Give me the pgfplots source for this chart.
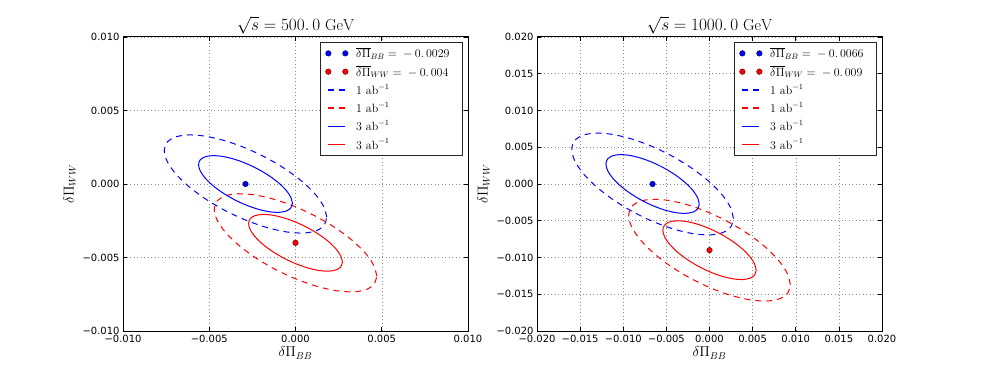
\documentclass[border=0pt]{standalone}
\usepackage{fontspec}
\usepackage{pgfplots}
\pgfplotsset{compat=1.18}
\newfontfamily\dejavu{DejaVu Sans}

\pgfplotsset{
  panel/.style={
    scale only axis, width=345bp, height=294bp, anchor=south west,
    scaled ticks=false,
    grid=major,
    grid style={black!45, line width=0.5bp, dash pattern=on 1bp off 2.5bp},
    tick align=inside, major tick length=4bp,
    tick style={black, line width=0.6bp},
    axis line style={black, line width=1bp},
    ticklabel style={font=\dejavu\fontsize{10}{12}\selectfont},
    xticklabel style={yshift=-1bp},
    label style={font=\fontsize{14}{16}\selectfont},
    xlabel style={yshift=3bp},
    title style={font=\fontsize{16}{19}\selectfont, yshift=-7bp},
    xlabel={$\delta\Pi_{BB}$}, ylabel={$\delta\Pi_{WW}$},
    legend cell align=left,
    legend style={font=\fontsize{12}{14}\selectfont, at={(1,1)}, anchor=north east,
      xshift=-5bp, yshift=-5bp, draw=black!85, line width=1bp,
      inner xsep=5bp, inner ysep=3bp, row sep=2.5bp,
      nodes={inner xsep=8bp}},
  },
  dots/.style={only marks, mark=*, mark size=2.8bp,
    mark options={draw=black!70!#1, line width=0.4bp, fill=#1}, color=#1,
    legend image code/.code={\draw[##1] plot[only marks] coordinates {(0bp,0bp) (17bp,0bp)};}},
  ell/.style={smooth, line width=1bp, draw=#1, color=#1, mark=none,
    legend image code/.code={\draw[##1, draw=#1, line width=1.4bp] (0bp,0bp) -- (17bp,0bp);}},
  dsh/.style={dash pattern=on 6bp off 5bp},
}

\begin{document}
\begin{tikzpicture}
\path[use as bounding box] (0,0) rectangle (981bp,368bp);

% ---- sqrt(s) = 500 GeV
\begin{axis}[panel, at={(123bp,37bp)},
  xmin=-0.01, xmax=0.01, ymin=-0.01, ymax=0.01,
  xtick={-0.01,-0.005,0,0.005,0.01},
  xticklabels={−0.010,−0.005,0.000,0.005,0.010},
  ytick={-0.01,-0.005,0,0.005,0.01},
  yticklabels={−0.010,−0.005,0.000,0.005,0.010},
  title={$\sqrt{s}=500.\,0\ \mathrm{GeV}$}]
\addplot[dots=blue] coordinates {(-0.0029,0)};
\addlegendentry{$\overline{\delta\Pi}_{BB}={}-0.\,0029$}
\addplot[dots=red] coordinates {(0,-0.004)};
\addlegendentry{$\overline{\delta\Pi}_{WW}={}-0.\,004$}
% 1 ab^-1
\addplot[ell=blue, dsh] coordinates {
 (1.81e-3,-2.271e-3) (1.649e-3,-1.560e-3) (1.179e-3,-0.742e-3) (0.430e-3,0.126e-3)
 (-0.545e-3,0.985e-3) (-1.681e-3,1.778e-3) (-2.9e-3,2.449e-3) (-4.119e-3,2.953e-3)
 (-5.255e-3,3.257e-3) (-6.23e-3,3.337e-3) (-6.979e-3,3.191e-3) (-7.449e-3,2.828e-3)
 (-7.61e-3,2.271e-3) (-7.449e-3,1.560e-3) (-6.979e-3,0.742e-3) (-6.23e-3,-0.126e-3)
 (-5.255e-3,-0.985e-3) (-4.119e-3,-1.778e-3) (-2.9e-3,-2.449e-3) (-1.681e-3,-2.953e-3)
 (-0.545e-3,-3.257e-3) (0.430e-3,-3.337e-3) (1.179e-3,-3.191e-3) (1.649e-3,-2.828e-3)
 (1.81e-3,-2.271e-3)};
\addlegendentry{$1\ \mathrm{ab}^{-1}$}
\addplot[ell=red, dsh] coordinates {
 (4.71e-3,-6.271e-3) (4.549e-3,-5.560e-3) (4.079e-3,-4.742e-3) (3.330e-3,-3.874e-3)
 (2.355e-3,-3.015e-3) (1.219e-3,-2.222e-3) (0,-1.551e-3) (-1.219e-3,-1.047e-3)
 (-2.355e-3,-0.743e-3) (-3.330e-3,-0.663e-3) (-4.079e-3,-0.809e-3) (-4.549e-3,-1.172e-3)
 (-4.71e-3,-1.729e-3) (-4.549e-3,-2.440e-3) (-4.079e-3,-3.258e-3) (-3.330e-3,-4.126e-3)
 (-2.355e-3,-4.985e-3) (-1.219e-3,-5.778e-3) (0,-6.449e-3) (1.219e-3,-6.953e-3)
 (2.355e-3,-7.257e-3) (3.330e-3,-7.337e-3) (4.079e-3,-7.191e-3) (4.549e-3,-6.828e-3)
 (4.71e-3,-6.271e-3)};
\addlegendentry{$1\ \mathrm{ab}^{-1}$}
% 3 ab^-1
\addplot[ell=blue] coordinates {
 (-0.18e-3,-1.312e-3) (-0.273e-3,-0.901e-3) (-0.544e-3,-0.429e-3) (-0.977e-3,0.073e-3)
 (-1.54e-3,0.569e-3) (-2.196e-3,1.027e-3) (-2.9e-3,1.415e-3) (-3.604e-3,1.707e-3)
 (-4.26e-3,1.882e-3) (-4.823e-3,1.928e-3) (-5.256e-3,1.844e-3) (-5.527e-3,1.634e-3)
 (-5.62e-3,1.312e-3) (-5.527e-3,0.901e-3) (-5.256e-3,0.429e-3) (-4.823e-3,-0.073e-3)
 (-4.26e-3,-0.569e-3) (-3.604e-3,-1.027e-3) (-2.9e-3,-1.415e-3) (-2.196e-3,-1.707e-3)
 (-1.54e-3,-1.882e-3) (-0.977e-3,-1.928e-3) (-0.544e-3,-1.844e-3) (-0.273e-3,-1.634e-3)
 (-0.18e-3,-1.312e-3)};
\addlegendentry{$3\ \mathrm{ab}^{-1}$}
\addplot[ell=red] coordinates {
 (2.72e-3,-5.312e-3) (2.627e-3,-4.901e-3) (2.356e-3,-4.429e-3) (1.923e-3,-3.927e-3)
 (1.36e-3,-3.431e-3) (0.704e-3,-2.973e-3) (0,-2.585e-3) (-0.704e-3,-2.293e-3)
 (-1.36e-3,-2.118e-3) (-1.923e-3,-2.072e-3) (-2.356e-3,-2.156e-3) (-2.627e-3,-2.366e-3)
 (-2.72e-3,-2.688e-3) (-2.627e-3,-3.099e-3) (-2.356e-3,-3.571e-3) (-1.923e-3,-4.073e-3)
 (-1.36e-3,-4.569e-3) (-0.704e-3,-5.027e-3) (0,-5.415e-3) (0.704e-3,-5.707e-3)
 (1.36e-3,-5.882e-3) (1.923e-3,-5.928e-3) (2.356e-3,-5.844e-3) (2.627e-3,-5.634e-3)
 (2.72e-3,-5.312e-3)};
\addlegendentry{$3\ \mathrm{ab}^{-1}$}
\end{axis}

% ---- sqrt(s) = 1000 GeV
\begin{axis}[panel, at={(537bp,37bp)},
  xmin=-0.02, xmax=0.02, ymin=-0.02, ymax=0.02,
  xtick={-0.02,-0.015,-0.01,-0.005,0,0.005,0.01,0.015,0.02},
  xticklabels={−0.020,−0.015,−0.010,−0.005,0.000,0.005,0.010,0.015,0.020},
  ytick={-0.02,-0.015,-0.01,-0.005,0,0.005,0.01,0.015,0.02},
  yticklabels={−0.020,−0.015,−0.010,−0.005,0.000,0.005,0.010,0.015,0.020},
  title={$\sqrt{s}=1000.\,0\ \mathrm{GeV}$}]
\addplot[dots=blue] coordinates {(-0.0066,0)};
\addlegendentry{$\overline{\delta\Pi}_{BB}={}-0.\,0066$}
\addplot[dots=red] coordinates {(0,-0.009)};
\addlegendentry{$\overline{\delta\Pi}_{WW}={}-0.\,009$}
% 1 ab^-1
\addplot[ell=blue, dsh] coordinates {
 (2.77e-3,-4.712e-3) (2.451e-3,-3.236e-3) (1.514e-3,-1.541e-3) (0.026e-3,0.261e-3)
 (-1.915e-3,2.044e-3) (-4.175e-3,3.688e-3) (-6.6e-3,5.081e-3) (-9.025e-3,6.128e-3)
 (-11.285e-3,6.757e-3) (-13.226e-3,6.924e-3) (-14.714e-3,6.622e-3) (-15.651e-3,5.867e-3)
 (-15.97e-3,4.712e-3) (-15.651e-3,3.236e-3) (-14.714e-3,1.541e-3) (-13.226e-3,-0.261e-3)
 (-11.285e-3,-2.044e-3) (-9.025e-3,-3.688e-3) (-6.6e-3,-5.081e-3) (-4.175e-3,-6.128e-3)
 (-1.915e-3,-6.757e-3) (0.026e-3,-6.924e-3) (1.514e-3,-6.622e-3) (2.451e-3,-5.867e-3)
 (2.77e-3,-4.712e-3)};
\addlegendentry{$1\ \mathrm{ab}^{-1}$}
\addplot[ell=red, dsh] coordinates {
 (9.37e-3,-13.712e-3) (9.051e-3,-12.236e-3) (8.114e-3,-10.541e-3) (6.626e-3,-8.739e-3)
 (4.685e-3,-6.956e-3) (2.425e-3,-5.312e-3) (0,-3.919e-3) (-2.425e-3,-2.872e-3)
 (-4.685e-3,-2.243e-3) (-6.626e-3,-2.076e-3) (-8.114e-3,-2.378e-3) (-9.051e-3,-3.133e-3)
 (-9.37e-3,-4.288e-3) (-9.051e-3,-5.764e-3) (-8.114e-3,-7.459e-3) (-6.626e-3,-9.261e-3)
 (-4.685e-3,-11.044e-3) (-2.425e-3,-12.688e-3) (0,-14.081e-3) (2.425e-3,-15.128e-3)
 (4.685e-3,-15.757e-3) (6.626e-3,-15.924e-3) (8.114e-3,-15.622e-3) (9.051e-3,-14.867e-3)
 (9.37e-3,-13.712e-3)};
\addlegendentry{$1\ \mathrm{ab}^{-1}$}
% 3 ab^-1
\addplot[ell=blue] coordinates {
 (-1.19e-3,-2.72e-3) (-1.374e-3,-1.868e-3) (-1.915e-3,-0.889e-3) (-2.775e-3,0.150e-3)
 (-3.895e-3,1.180e-3) (-5.2e-3,2.129e-3) (-6.6e-3,2.933e-3) (-8.0e-3,3.537e-3)
 (-9.305e-3,3.900e-3) (-10.425e-3,3.997e-3) (-11.285e-3,3.822e-3) (-11.826e-3,3.386e-3)
 (-12.01e-3,2.72e-3) (-11.826e-3,1.868e-3) (-11.285e-3,0.889e-3) (-10.425e-3,-0.150e-3)
 (-9.305e-3,-1.180e-3) (-8.0e-3,-2.129e-3) (-6.6e-3,-2.933e-3) (-5.2e-3,-3.537e-3)
 (-3.895e-3,-3.900e-3) (-2.775e-3,-3.997e-3) (-1.915e-3,-3.822e-3) (-1.374e-3,-3.386e-3)
 (-1.19e-3,-2.72e-3)};
\addlegendentry{$3\ \mathrm{ab}^{-1}$}
\addplot[ell=red] coordinates {
 (5.41e-3,-11.72e-3) (5.226e-3,-10.868e-3) (4.685e-3,-9.889e-3) (3.825e-3,-8.850e-3)
 (2.705e-3,-7.820e-3) (1.400e-3,-6.871e-3) (0,-6.067e-3) (-1.400e-3,-5.463e-3)
 (-2.705e-3,-5.100e-3) (-3.825e-3,-5.003e-3) (-4.685e-3,-5.178e-3) (-5.226e-3,-5.614e-3)
 (-5.41e-3,-6.28e-3) (-5.226e-3,-7.132e-3) (-4.685e-3,-8.111e-3) (-3.825e-3,-9.150e-3)
 (-2.705e-3,-10.180e-3) (-1.400e-3,-11.129e-3) (0,-11.933e-3) (1.400e-3,-12.537e-3)
 (2.705e-3,-12.900e-3) (3.825e-3,-12.997e-3) (4.685e-3,-12.822e-3) (5.226e-3,-12.386e-3)
 (5.41e-3,-11.72e-3)};
\addlegendentry{$3\ \mathrm{ab}^{-1}$}
\end{axis}
\end{tikzpicture}
\end{document}
